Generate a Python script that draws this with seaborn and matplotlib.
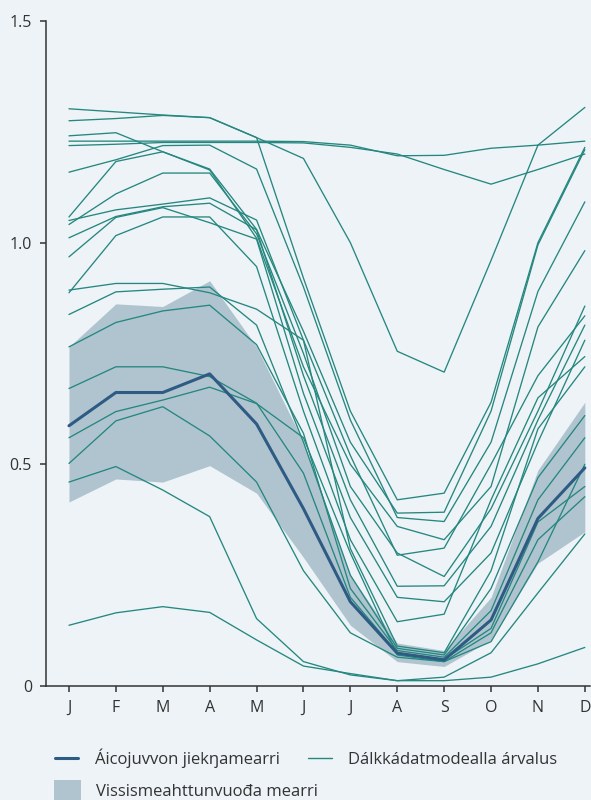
import numpy as np
import pandas as pd
import matplotlib
matplotlib.use("Agg")
import matplotlib.pyplot as plt
from matplotlib.lines import Line2D
from matplotlib.patches import Patch
import seaborn as sns

# month labels along the x axis
months = ["J", "F", "M", "A", "M", "J", "J", "A", "S", "O", "N", "D"]

# climate model runs, one list per model (J..D)
model_01 = [1.302, 1.295, 1.288, 1.282, 1.237, 0.92, 0.62, 0.42, 0.435, 0.64, 1.00, 1.215]
model_02 = [1.275, 1.280, 1.287, 1.282, 1.237, 1.19, 1.00, 0.755, 0.708, 0.96, 1.22, 1.305]
model_03 = [1.241, 1.248, 1.205, 1.166, 1.03, 0.80, 0.55, 0.39, 0.392, 0.62, 0.995, 1.21]
model_04 = [1.229, 1.229, 1.229, 1.229, 1.229, 1.228, 1.22, 1.196, 1.197, 1.213, 1.22, 1.229]
model_05 = [1.219, 1.222, 1.226, 1.226, 1.226, 1.225, 1.215, 1.20, 1.165, 1.132, 1.165, 1.20]
model_06 = [1.159, 1.187, 1.219, 1.22, 1.166, 0.90, 0.60, 0.38, 0.371, 0.55, 0.89, 1.092]
model_07 = [1.058, 1.183, 1.205, 1.164, 1.01, 0.72, 0.50, 0.36, 0.33, 0.45, 0.81, 0.982]
model_08 = [1.041, 1.11, 1.157, 1.157, 1.02, 0.75, 0.45, 0.30, 0.247, 0.40, 0.62, 0.857]
model_09 = [1.05, 1.074, 1.087, 1.101, 1.051, 0.78, 0.52, 0.295, 0.311, 0.50, 0.70, 0.835]
model_10 = [1.011, 1.059, 1.081, 1.089, 1.029, 0.70, 0.42, 0.225, 0.226, 0.36, 0.60, 0.814]
model_11 = [0.968, 1.057, 1.079, 1.045, 1.008, 0.66, 0.38, 0.20, 0.19, 0.30, 0.55, 0.78]
model_12 = [0.893, 0.908, 0.908, 0.887, 0.85, 0.78, 0.31, 0.09, 0.075, 0.26, 0.58, 0.72]
model_13 = [0.887, 1.016, 1.058, 1.058, 0.946, 0.62, 0.33, 0.145, 0.162, 0.42, 0.65, 0.743]
model_14 = [0.838, 0.889, 0.895, 0.90, 0.814, 0.55, 0.25, 0.085, 0.07, 0.22, 0.47, 0.61]
model_15 = [0.765, 0.82, 0.846, 0.859, 0.77, 0.57, 0.22, 0.08, 0.065, 0.17, 0.42, 0.56]
model_16 = [0.671, 0.72, 0.72, 0.698, 0.638, 0.48, 0.20, 0.075, 0.06, 0.13, 0.37, 0.45]
model_17 = [0.560, 0.619, 0.645, 0.674, 0.637, 0.56, 0.30, 0.07, 0.055, 0.12, 0.33, 0.427]
model_18 = [0.502, 0.598, 0.63, 0.564, 0.46, 0.26, 0.12, 0.065, 0.055, 0.10, 0.28, 0.50]
model_19 = [0.460, 0.495, 0.442, 0.382, 0.152, 0.055, 0.025, 0.012, 0.02, 0.075, 0.21, 0.343]
model_20 = [0.137, 0.165, 0.179, 0.166, 0.104, 0.045, 0.028, 0.012, 0.012, 0.02, 0.05, 0.087]

models = [model_01, model_02, model_03, model_04, model_05, model_06, model_07,
          model_08, model_09, model_10, model_11, model_12, model_13, model_14,
          model_15, model_16, model_17, model_18, model_19, model_20]

# observed mean and its uncertainty band
obs_mean = [0.587, 0.662, 0.662, 0.704, 0.591, 0.40, 0.19, 0.074, 0.059, 0.149, 0.378, 0.492]
band_low = [0.415, 0.467, 0.46, 0.497, 0.435, 0.29, 0.137, 0.055, 0.044, 0.104, 0.277, 0.348]
band_high = [0.765, 0.862, 0.856, 0.914, 0.765, 0.55, 0.25, 0.097, 0.08, 0.2, 0.487, 0.64]

bg = "#edf3f6"
teal = "#25877f"
navy = "#2e5b84"
band_col = "#b0c4d0"

sns.set_theme(style="ticks")
plt.rcParams["font.family"] = ["Open Sans", "DejaVu Sans"]

x = np.arange(len(months))
long = pd.DataFrame({
    "month": np.tile(x, len(models)),
    "value": np.concatenate(models),
    "model": np.repeat(np.arange(len(models)), len(months)),
})

fig = plt.figure(figsize=(5.91, 8.0), dpi=100, facecolor=bg)
ax = fig.add_axes([46 / 591, 114 / 800, 544 / 591, 665 / 800])
ax.set_facecolor(bg)

ax.fill_between(x, band_low, band_high, color=band_col, linewidth=0, zorder=1)
sns.lineplot(data=long, x="month", y="value", units="model", estimator=None,
             color=teal, linewidth=0.95, ax=ax, zorder=2, legend=False)
sns.lineplot(x=x, y=obs_mean, color=navy, linewidth=2.2, ax=ax, zorder=3)

ax.set_xlim(-0.49, 11.11)
ax.set_ylim(0, 1.5)
ax.set_xticks(x)
ax.set_xticklabels(months)
ax.set_yticks([0, 0.5, 1.0, 1.5])
ax.set_yticklabels(["0", "0.5", "1.0", "1.5"])
ax.set_xlabel("")
ax.set_ylabel("")
sns.despine(ax=ax)
for s in ["left", "bottom"]:
    ax.spines[s].set_color("#333333")
    ax.spines[s].set_linewidth(1.1)
ax.tick_params(axis="both", colors="#333333", labelsize=11.5, width=1.1, length=4)
ax.tick_params(axis="y", pad=6)
ax.tick_params(axis="x", pad=6)

h_mean = Line2D([], [], color=navy, linewidth=2.2)
h_model = Line2D([], [], color=teal, linewidth=1.0)
h_band = Patch(facecolor=band_col, edgecolor="none")

fig.legend([h_mean, h_model], ["Áicojuvvon jiekŋamearri", "Dálkkádatmodealla árvalus"],
           loc="center left", bbox_to_anchor=(55 / 591, 1 - 758 / 800), ncol=2,
           frameon=False, fontsize=12, handlelength=1.4, handletextpad=1.0,
           columnspacing=1.7, borderpad=0, borderaxespad=0, labelcolor="#333333")
fig.legend([h_band], ["Vissismeahttunvuođa mearri"],
           loc="center left", bbox_to_anchor=(54 / 591, 1 - 790 / 800),
           frameon=False, fontsize=12, handlelength=1.6, handleheight=1.4,
           handletextpad=0.9, borderpad=0, borderaxespad=0, labelcolor="#333333")

fig.savefig("out.png", dpi=100, facecolor=bg)
